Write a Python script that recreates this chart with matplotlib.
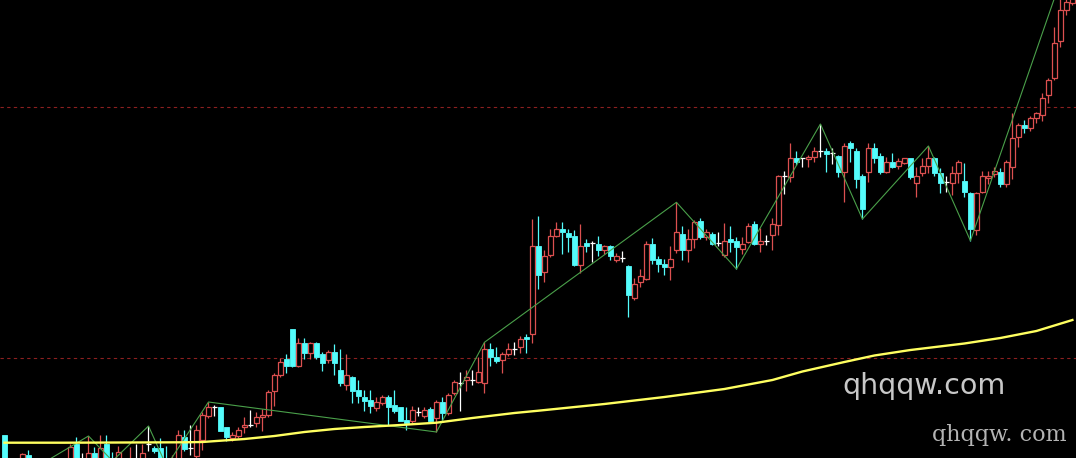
import numpy as np
import matplotlib
matplotlib.use("Agg")
from matplotlib import pyplot as plt
from matplotlib.patches import Rectangle

# daily candles (price units), oldest first
opens = [23, -14, -7, -8, 3, -8, -16, -10, -18, -12,
         -6, -4, 14, -3, -5, 5.3, -8, 14, -1.5, -8,
         -4, -7, -2, -5, 14, 10.3, 10, -2, -8, -4,
         21, 10.3, 2, 18, 42, 50.7, 50.7, 30.7, 19.7, 22,
         30.7, 32.7, 35.3, 40.7, 43, 67.3, 83, 98.7, 128.7, 92,
         115.3, 105.3, 115.3, 104, 98, 105.7, 88, 73, 81, 68,
         61.3, 58, 50.3, 55.3, 60.7, 52.7, 50.7, 38, 37.3, 46.3,
         42, 48.7, 39.7, 56.3, 45.3, 65.3, 75.3, 78, 78, 76.3,
         75.3, 108.7, 101.3, 98, 104, 108.7, 110.7, 121.3, 124, 212,
         186.3, 203, 222, 228.7, 224.7, 222, 193, 214.7, 215.3, 214,
         208, 212, 198, 199.7, 192, 159.7, 176.3, 178.7, 214, 198.7,
         194, 191.3, 208, 224, 208, 218.7, 237.3, 221.3, 224, 214.7,
         203, 218.7, 217.3, 208.7, 216.3, 234, 214, 217.5, 223, 233,
         282, 281.3, 299.7, 299.7, 298.7, 301.3, 307, 307, 304.7, 302,
         286.3, 315.3, 307, 282, 286.3, 309.7, 302, 286.3, 296.3, 292,
         294.7, 299.7, 274.7, 284.7, 292, 299.7, 284.7, 276.3, 274.7, 284.7,
         277.3, 264.7, 228, 266.3, 279.7, 284, 286.3, 274, 291.3, 321.3,
         333, 329.7, 339.7, 343, 363, 379.7, 417.3, 448, 455]
highs = [23, -2, -3, 5.5, 8, -4, -7, -8, -9, -3,
         -2, 14, 21, 5, 22, 11, 23, 23, 6, 12,
         -1, 11, 14, 13.7, 32, 12, 20.5, 12, 3, 28,
         28, 33, 33, 46.3, 56, 53, 51, 31, 26.3, 30.7,
         40.7, 48, 46.3, 48.7, 68, 84.7, 99.7, 104, 129, 119.7,
         119.7, 116.3, 116, 106, 108, 114, 108.7, 104, 82, 78,
         68, 68, 61.3, 63, 63, 68, 51.3, 50.7, 52.3, 51.3,
         51.3, 51.3, 58, 61, 65.3, 78, 86.3, 88, 88, 101.3,
         115.7, 115.3, 111.3, 106, 115.3, 116.3, 122, 124, 239, 242,
         208, 228.7, 236.3, 236.3, 228.7, 228, 234, 218.7, 217.3, 222,
         213, 213, 204.7, 207.3, 193, 179.7, 188.7, 217.3, 219.7, 202,
         198.7, 212, 255.7, 232, 228.7, 238, 239.7, 228.7, 226.3, 226.3,
         234.7, 232, 221.3, 221.3, 234.7, 237.3, 229.7, 223.5, 239.7, 283,
         287.3, 315.3, 307.3, 300.5, 303, 310.7, 334, 309.7, 309.7, 303,
         315.3, 317.3, 309.7, 284, 315.3, 314.7, 305.3, 301.3, 304.7, 300,
         300, 300, 291.3, 299.7, 312, 301.3, 289.7, 282, 292, 298,
         294.7, 266, 266, 287.3, 287.3, 290.7, 289.7, 298, 344.7, 335,
         338, 342, 346.3, 364.7, 379.7, 430.7, 477, 463, 466]
lows = [-28, -18, -16, -12, -14, -18, -20, -20, -22, -14,
        -13, -7, -11, -8, -8, -11, -11, -10, -3, -11,
        -12, -10, -7, -8, 7, 5, -7, -8, -10, -6,
        7, 3, 0, 8, 40, 42, 27, 17.3, 17.3, 19.7,
        24.7, 30.7, 30.7, 27.3, 40.7, 52, 81.3, 85.3, 90.7, 90.7,
        98.7, 98.7, 98.7, 87.3, 95.3, 83, 72, 68, 55.5, 55.3,
        47, 45.3, 47.3, 53, 33, 45.3, 37, 28, 35.3, 42,
        39.7, 36.3, 26, 38, 43, 63, 47.3, 67.3, 73, 75.3,
        65.3, 92.3, 95.3, 85.3, 102, 103, 105.3, 105.3, 115.3, 168.7,
        176.3, 201.3, 220.7, 204, 206.3, 192, 184.7, 206.3, 196.3, 202,
        204, 198, 196.3, 196.3, 140.7, 158, 171.3, 178, 194, 186.3,
        183, 178, 204.7, 198, 196.3, 209.7, 218.7, 218, 213, 212,
        201.3, 206.3, 189, 204, 214.7, 213, 206.3, 213, 208, 223,
        264, 276.3, 293, 291.3, 291.3, 296.3, 301.3, 286.3, 294, 281.3,
        256.3, 296.3, 269.7, 239, 276.3, 294.7, 284, 284.7, 289.7, 288.7,
        294.5, 278.7, 261.3, 282, 285.3, 282, 264.7, 266.3, 263, 275.3,
        261.3, 217.3, 223, 265, 274, 281, 271.3, 271.3, 278.7, 311.3,
        324.7, 327, 335.3, 337.3, 354.7, 378, 410.7, 443, 453]
closes = [-8, -6, -12, 4, -10, -14, -10, -16, -12, -5,
          -10, 11, -8, -3, 5.5, -8, 10.5, -7, -2.5, 6,
          -9, -1, -2, 5.3, 14, 7, -4, -6, -2, 23,
          9.5, 10.3, 28, 43, 50.7, 50.7, 27.3, 20.7, 23, 28,
          33, 32.7, 40.7, 43, 66.3, 83, 96.3, 92, 92, 115.3,
          105.3, 115.3, 100.7, 95.3, 105.7, 95.3, 75.3, 83, 67.3, 62,
          57, 52, 56.3, 60.7, 50.7, 47.3, 37.3, 35.3, 48, 46.3,
          48, 37.3, 56.3, 45.3, 63, 76.3, 75.3, 81.3, 78, 86.3,
          108.7, 100.7, 97.3, 104, 108.7, 108.7, 118.7, 118.7, 212, 183,
          202, 222, 228.7, 226.3, 221.3, 193, 212, 212, 215.3, 208,
          212, 202, 202, 199.7, 163, 174, 182, 214, 198, 194,
          191.3, 198.7, 226.3, 208, 218.7, 236.3, 221.3, 226.3, 214, 214.7,
          217.3, 216.3, 211.3, 214, 232, 214, 217.3, 217.5, 234, 282,
          282, 299.7, 296.3, 299.7, 301.3, 307, 307, 304, 304.7, 286.3,
          312, 309.7, 279, 249, 309.7, 299.7, 286.3, 296.3, 291.3, 297.3,
          299.7, 281.3, 282, 292, 299.7, 284.7, 274.7, 276.3, 284.7, 296.3,
          266.3, 228.7, 264.7, 282, 282, 287, 274, 296.3, 319.7, 333,
          329.7, 339.7, 344.7, 359.7, 378, 415.3, 448, 456.3, 461]

# long moving average (sampled)
ma_idx = [0, 10, 20, 30, 33, 40, 45, 50, 55, 60, 66, 72, 78, 85, 89,
          100, 110, 120, 128, 133, 140, 145, 151, 160, 166, 172, 178]
ma_val = [15.3, 15.3, 15.5, 15.7, 16, 19, 22, 26, 29, 31, 33, 35.3, 40, 45, 47.3,
          54, 61, 69, 78, 86.5, 96, 102.5, 108, 114.5, 120, 127, 138]

# zigzag turning points
zz_idx = [0, 14, 18, 24, 27, 34, 72, 80, 112, 122, 136, 143, 154, 161, 176]
zz_val = [-28, 22, -3, 32, -8, 56, 26, 115.7, 255.7, 189, 334, 239, 312, 217.3, 477]

grid_levels = [100, 351]

up_col = "#dc5050"
down_col = "#54fcfc"
doji_col = "#ffffff"
w = 0.78

fig = plt.figure(figsize=(10.76, 4.58), dpi=100)
fig.patch.set_facecolor("black")
ax = fig.add_axes([0, 0, 1, 1])
ax.set_facecolor("black")

for lv in grid_levels:
    ax.axhline(lv, color="#8c2020", lw=0.8, ls=(0, (3, 3)), zorder=1)

for i in range(len(opens)):
    o, h, l, c = opens[i], highs[i], lows[i], closes[i]
    top = max(o, c)
    bot = min(o, c)
    if c > o:
        col = up_col
    elif c < o:
        col = down_col
    else:
        col = doji_col
    ax.vlines(i, top, h, color=col, lw=0.9, zorder=3)
    ax.vlines(i, l, bot, color=col, lw=0.9, zorder=3)
    if c > o:
        ax.add_patch(Rectangle((i - w / 2, bot), w, top - bot, facecolor="black",
                               edgecolor=col, lw=0.9, zorder=4))
    elif c < o:
        ax.add_patch(Rectangle((i - w / 2, bot), w, top - bot, facecolor=col,
                               edgecolor=col, lw=0.6, zorder=4))
    else:
        ax.hlines(o, i - w / 2, i + w / 2, color=col, lw=0.9, zorder=4)

ax.plot(zz_idx, zz_val, color="#4aa04a", lw=0.8, zorder=5)
ax.plot(ma_idx, ma_val, color="#ffff60", lw=1.7, zorder=6)

ax.set_xlim(-0.75, 178.6)
ax.set_ylim(0, 458)
ax.axis("off")

fig.text(842 / 1076, (458 - 394) / 458, "qhqqw.com", color="#c8c8c8",
         fontsize=20.5, family="DejaVu Sans", ha="left", va="baseline")
fig.text(932 / 1076, (458 - 441.5) / 458, "qhqqw. com", color="#b4b4b4",
         fontsize=16, family="DejaVu Serif", ha="left", va="baseline")

fig.savefig("out.png", dpi=100, facecolor="black")
